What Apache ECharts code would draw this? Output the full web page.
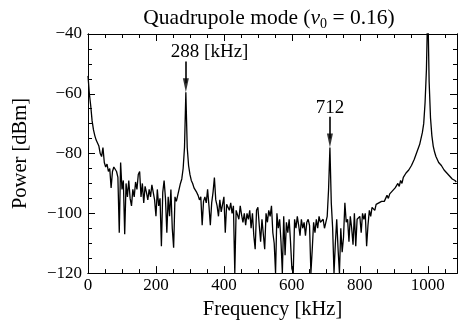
<!DOCTYPE html>
<html>
<head>
<meta charset="utf-8">
<title>Quadrupole mode spectrum</title>
<script src="https://cdn.jsdelivr.net/npm/echarts@6/dist/echarts.min.js"></script>
<style>
    html, body { margin: 0; padding: 0; background: #fff; }
    #spectrum_con { width: 458px; height: 325px; }
</style>
</head>
<body>
<div id="spectrum_con"></div>
<script>
    // spectrum, one sample every 4 kHz starting at 0 kHz
    const STEP_KHZ = 4;
    const powerDbm = [
        -54, -60, -64, -69, -72, -74, -75.5, -76.5, -77.5, -80,
        -81, -78, -83, -84.5, -83.5, -86, -85, -91.5, -86, -84.5,
        -84, -86, -88, -106.5, -83, -92, -89, -107, -90, -94.5,
        -89, -95, -97.5, -92, -94.5, -89.5, -92, -87, -86, -94.5,
        -90, -96.5, -91, -93, -95.5, -92, -94.5, -90.5, -93, -95.5,
        -101, -92, -97.5, -95, -111, -93, -89, -95, -106.5, -94.5,
        -101, -92, -105, -111.5, -94.5, -96, -95.5, -92, -90, -88.5,
        -85, -78, -59.5, -78, -84, -87, -89, -90, -91.5, -92,
        -93, -94, -95.5, -94.5, -104, -96, -94.5, -96.5, -92, -97.5,
        -104, -96.5, -93, -88, -95.5, -97.5, -101, -95.5, -99.5, -100,
        -94.5, -106.5, -97, -96.5, -99, -96.5, -100, -97.5, -120, -99,
        -98.5, -102, -97.5, -100.5, -103, -100, -104, -100, -102, -99,
        -105, -100, -107.5, -112, -99, -98, -104, -109.5, -102, -107,
        -112, -100, -103, -99, -101, -97.5, -106.5, -110, -120, -100,
        -105, -102, -109.5, -120, -101, -114, -103, -106.5, -102, -109.5,
        -118.5, -120, -102, -105, -101, -104, -107.5, -102, -105, -103,
        -107.5, -103, -102, -104, -120, -112, -103, -106.5, -102, -105,
        -101, -103, -103, -102, -105, -103, -101, -92, -78, -96.5,
        -105, -120, -110, -102, -112, -120, -105, -113, -108, -96.5,
        -103, -102, -109.5, -101, -105, -110.5, -100, -111, -102, -102,
        -101, -106.5, -100, -102, -100, -111, -104, -99, -101, -98,
        -98, -99, -97, -97.5, -96.5, -96.5, -96, -95.5, -96, -95,
        -94, -95, -93.5, -93.5, -92.5, -93, -91.5, -91.5, -90, -91,
        -89, -90, -88, -88.5, -86.5, -87, -85.5, -85.5, -84, -84,
        -82, -82, -79.5, -79.5, -77, -75, -73, -70, -63, -52,
        -30, -56, -68, -74, -77.5, -79.5, -81, -82, -83, -83.5,
        -84, -84.5, -85.5, -86, -86.5, -87, -87.5, -88, -88.5, -88.5,
        -89, -89.5
    ];
    const freqKhz = powerDbm.map((p, i) => i * STEP_KHZ);

    // marked peaks
    const peakFreqs = [288, 712];
    const peakPower = [-59.5, -78];
    const peakLabels = ['288 [kHz]', '712'];

    const FONT = "'Liberation Serif', 'DejaVu Serif', serif";
    const minus = (v) => (v < 0 ? '\u2212' + Math.abs(v) : String(v));

    // each side of the frame is drawn by a major-tick axis and a minor-tick axis
    const frameX = (position, interval, tickLen, labels) => ({
        type: 'value',
        position: position,
        min: 0,
        max: 1086,
        interval: interval,
        axisLine: { show: true, onZero: false, lineStyle: { color: '#000', width: 1 } },
        axisTick: { show: true, inside: true, length: tickLen, lineStyle: { color: '#000', width: 1 } },
        axisLabel: {
            show: labels, margin: 4, color: '#000', fontFamily: FONT, fontSize: 17,
            showMaxLabel: false, formatter: (v) => String(v)
        },
        splitLine: { show: false }
    });

    const frameY = (position, interval, tickLen, labels) => ({
        type: 'value',
        position: position,
        min: -120,
        max: -40,
        interval: interval,
        axisLine: { show: true, onZero: false, lineStyle: { color: '#000', width: 1 } },
        axisTick: { show: true, inside: true, length: tickLen, lineStyle: { color: '#000', width: 1 } },
        axisLabel: { show: labels, margin: 6, color: '#000', fontFamily: FONT, fontSize: 17, formatter: minus },
        splitLine: { show: false }
    });

    const xBottom = frameX('bottom', 200, 7, true);
    xBottom.name = 'Frequency [kHz]';
    xBottom.nameLocation = 'middle';
    xBottom.nameGap = 15;
    xBottom.nameTextStyle = { color: '#000', fontFamily: FONT, fontSize: 20.5 };

    const yLeft = frameY('left', 20, 7, true);
    yLeft.name = 'Power [dBm]';
    yLeft.nameLocation = 'middle';
    yLeft.nameGap = 57;
    yLeft.nameTextStyle = { color: '#000', fontFamily: FONT, fontSize: 20.5 };

    const titleStyle = { fontFamily: FONT, fontSize: 21.5, fontWeight: 'normal', color: '#000', lineHeight: 26 };

    const option = {
        animation: false,
        backgroundColor: '#fff',
        title: {
            text: '{t|Quadrupole mode (}{nu|\u03bd}{sub|0}{t| = 0.16)}',
            left: 264,
            top: 0,
            textAlign: 'center',
            textStyle: {
                fontWeight: 'normal',
                rich: {
                    t: titleStyle,
                    nu: Object.assign({}, titleStyle, { fontStyle: 'italic' }),
                    sub: { fontFamily: FONT, fontSize: 14, fontWeight: 'normal', color: '#000', lineHeight: 14, verticalAlign: 'bottom' }
                }
            }
        },
        grid: { left: 88, right: 1, top: 34, bottom: 47 },
        xAxis: [
            xBottom,
            frameX('bottom', 50, 4, false),
            frameX('top', 200, 7, false),
            frameX('top', 50, 4, false)
        ],
        yAxis: [
            yLeft,
            frameY('left', 5, 4, false),
            frameY('right', 20, 7, false),
            frameY('right', 5, 4, false)
        ],
        series: [
            {
                name: 'spectrum',
                type: 'line',
                data: freqKhz.map((f, i) => [f, powerDbm[i]]),
                showSymbol: false,
                symbol: 'none',
                clip: true,
                lineStyle: { color: '#000', width: 1.3 },
                markLine: {
                    silent: true,
                    symbol: ['none', 'none'],
                    label: { show: false },
                    lineStyle: { color: '#000', width: 1.6, type: 'solid' },
                    data: peakFreqs.map((f, i) => [
                        { coord: [f, peakPower[i] + 10.3] },
                        { coord: [f, peakPower[i] + 3] }
                    ])
                },
                markPoint: {
                    silent: true,
                    symbol: 'circle',
                    symbolSize: 0,
                    itemStyle: { color: 'rgba(0,0,0,0)' },
                    label: { show: true, position: 'inside', color: '#000', fontFamily: FONT, fontSize: 19, formatter: (p) => p.name },
                    data: [
                        { name: peakLabels[0], coord: [peakFreqs[0], peakPower[0] + 13.6], label: { align: 'left', offset: [-15, 0] } },
                        { name: peakLabels[1], coord: [peakFreqs[1], peakPower[1] + 13.4] }
                    ]
                }
            },
            {
                name: 'arrows',
                type: 'scatter',
                data: peakFreqs.map((f, i) => [f, peakPower[i]]),
                symbol: 'path://M0,0 L10,0 L5,24 Z',
                symbolSize: [6, 14],
                symbolOffset: [0, -7],
                itemStyle: { color: '#000' },
                silent: true,
                z: 3
            }
        ]
    };

    const spectrum = echarts.init(document.getElementById('spectrum_con'));
    spectrum.setOption(option);

    window.addEventListener('resize', function () {
        spectrum.resize();
    });
</script>
</body>
</html>
